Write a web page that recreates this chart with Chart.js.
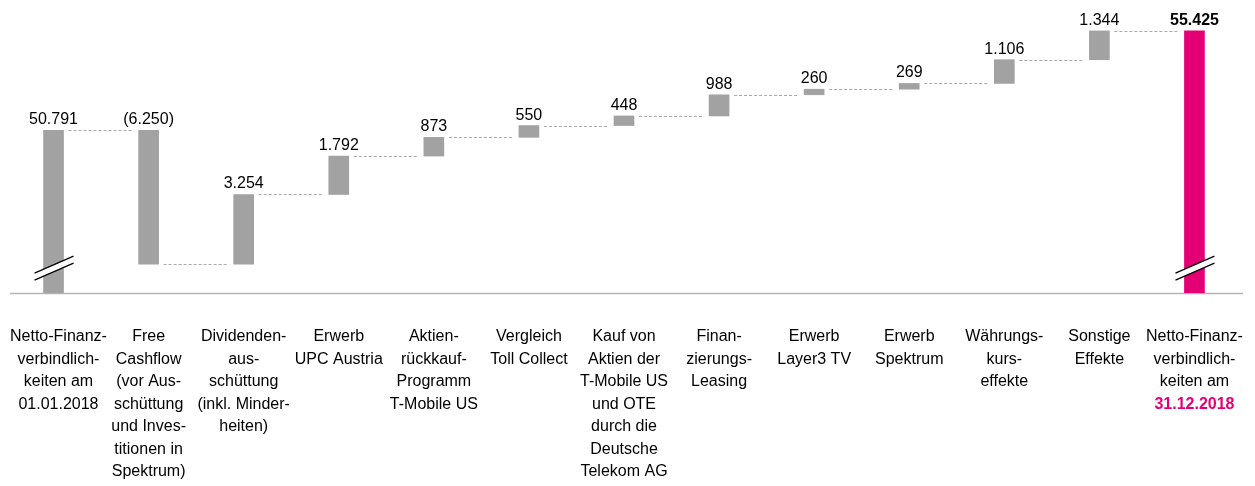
<!DOCTYPE html>
<html>
<head>
<meta charset="utf-8">
<script src="https://cdn.jsdelivr.net/npm/chart.js@4"></script>
<style>
  html, body { margin: 0; padding: 0; background: #fff; }
  #wrap { width: 1255px; height: 486px; position: relative; }
</style>
</head>
<body>
<div id="wrap"><canvas id="waterfall"></canvas></div>
<script>
// Kategorien (mehrzeilig, wie im Original umbrochen)
const categories = [
    ['Netto-Finanz-', 'verbindlich-', 'keiten am', '01.01.2018'],
    ['Free', 'Cashflow', '(vor Aus-', 'schüttung', 'und Inves-', 'titionen in', 'Spektrum)'],
    ['Dividenden-', 'aus-', 'schüttung', '(inkl. Minder-', 'heiten)'],
    ['Erwerb', 'UPC Austria'],
    ['Aktien-', 'rückkauf-', 'Programm', 'T-Mobile US'],
    ['Vergleich', 'Toll Collect'],
    ['Kauf von', 'Aktien der', 'T-Mobile US', 'und OTE', 'durch die', 'Deutsche', 'Telekom AG'],
    ['Finan-', 'zierungs-', 'Leasing'],
    ['Erwerb', 'Layer3 TV'],
    ['Erwerb', 'Spektrum'],
    ['Währungs-', 'kurs-', 'effekte'],
    ['Sonstige', 'Effekte'],
    ['Netto-Finanz-', 'verbindlich-', 'keiten am', '31.12.2018']
];

// Werte in Mio. €: erster und letzter Wert sind Bestände, dazwischen Veränderungen
const values = [50791, -6250, 3254, 1792, 873, 550, 448, 988, 260, 269, 1106, 1344, 55425];
const isTotal = [true, false, false, false, false, false, false, false, false, false, false, false, true];

// Achse ist unterbrochen, daher beginnt die Skala nicht bei 0
const axisMin = 43200;
const axisMax = 56400;
const breakAt = 44500;

const grau = '#a2a2a2';
const magenta = '#e20074';

function fmt(v) {
    const s = Math.abs(v).toLocaleString('de-DE');
    return v < 0 ? '(' + s + ')' : s;
}

// Schwebende Balken aus den laufenden Summen bauen
let running = 0;
const levels = [];
const barData = values.map((v, i) => {
    if (isTotal[i]) {
        running = v;
        levels.push(running);
        return [axisMin, v];
    }
    const start = running;
    running += v;
    levels.push(running);
    return [start, running];
});

const waterfallExtras = {
    id: 'waterfallExtras',
    beforeDatasetsDraw(chart) {
        const { ctx, chartArea } = chart;
        ctx.save();
        ctx.strokeStyle = '#b4b4b4';
        ctx.lineWidth = 1.5;
        ctx.beginPath();
        ctx.moveTo(10, chartArea.bottom + 0.5);
        ctx.lineTo(1243, chartArea.bottom + 0.5);
        ctx.stroke();
        ctx.restore();
    },
    afterDatasetsDraw(chart) {
        const { ctx, scales } = chart;
        const y = scales.y;
        const bars = chart.getDatasetMeta(0).data;
        ctx.save();

        // gestrichelte Verbindungslinien
        ctx.strokeStyle = '#aaaaaa';
        ctx.lineWidth = 1;
        ctx.setLineDash([3, 2]);
        for (let i = 0; i < bars.length - 1; i++) {
            const py = Math.round(y.getPixelForValue(levels[i])) + 0.5;
            const x1 = bars[i].x + bars[i].width / 2 + 5;
            const x2 = bars[i + 1].x - bars[i + 1].width / 2 - 5;
            ctx.beginPath();
            ctx.moveTo(x1, py);
            ctx.lineTo(x2, py);
            ctx.stroke();
        }
        ctx.setLineDash([]);

        // Achsenbruch auf den Bestandsbalken
        const by = y.getPixelForValue(breakAt);
        bars.forEach((bar, i) => {
            if (!isTotal[i]) return;
            const x1 = bar.x - 19, x2 = bar.x + 20;
            ctx.fillStyle = '#fff';
            ctx.beginPath();
            ctx.moveTo(x1, by + 8);
            ctx.lineTo(x2, by - 9);
            ctx.lineTo(x2, by - 2);
            ctx.lineTo(x1, by + 15);
            ctx.closePath();
            ctx.fill();
            ctx.strokeStyle = '#000';
            ctx.lineWidth = 1.2;
            ctx.beginPath();
            ctx.moveTo(x1, by + 8);
            ctx.lineTo(x2, by - 9);
            ctx.moveTo(x1, by + 15);
            ctx.lineTo(x2, by - 2);
            ctx.stroke();
        });

        // Wertbeschriftungen
        ctx.textAlign = 'center';
        ctx.textBaseline = 'alphabetic';
        bars.forEach((bar, i) => {
            const top = Math.min(bar.y, bar.base);
            const last = i === bars.length - 1;
            ctx.font = (last ? 'bold ' : '') + '16px "Liberation Sans", Arial, sans-serif';
            ctx.fillStyle = '#000';
            ctx.fillText(fmt(values[i]), bar.x, top - 6);
        });

        // Kategorien unter der Achse (Block nicht über den linken Rand hinaus)
        ctx.textBaseline = 'middle';
        bars.forEach((bar, i) => {
            ctx.font = '16px "Liberation Sans", Arial, sans-serif';
            const blockW = Math.max(...categories[i].map(l => ctx.measureText(l).width));
            const cx = Math.max(bar.x, 10 + blockW / 2);
            categories[i].forEach((line, j) => {
                const lastLine = i === bars.length - 1 && j === categories[i].length - 1;
                ctx.font = (lastLine ? 'bold ' : '') + '16px "Liberation Sans", Arial, sans-serif';
                ctx.fillStyle = lastLine ? magenta : '#000';
                ctx.fillText(line, cx, 337 + j * 22.5);
            });
        });
        ctx.restore();
    }
};

new Chart(document.getElementById('waterfall'), {
    type: 'bar',
    data: {
        labels: categories.map(c => c.join(' ')),
        datasets: [{
            data: barData,
            backgroundColor: values.map((v, i) => i === values.length - 1 ? magenta : grau),
            borderWidth: 0,
            borderSkipped: false,
            barThickness: 20
        }]
    },
    options: {
        responsive: true,
        maintainAspectRatio: false,
        animation: false,
        layout: { padding: { left: 6, right: 13, top: 10, bottom: 193 } },
        plugins: {
            legend: { display: false },
            tooltip: { enabled: false }
        },
        scales: {
            x: { display: false, offset: true },
            y: { display: false, min: axisMin, max: axisMax }
        }
    },
    plugins: [waterfallExtras]
});
</script>
</body>
</html>
